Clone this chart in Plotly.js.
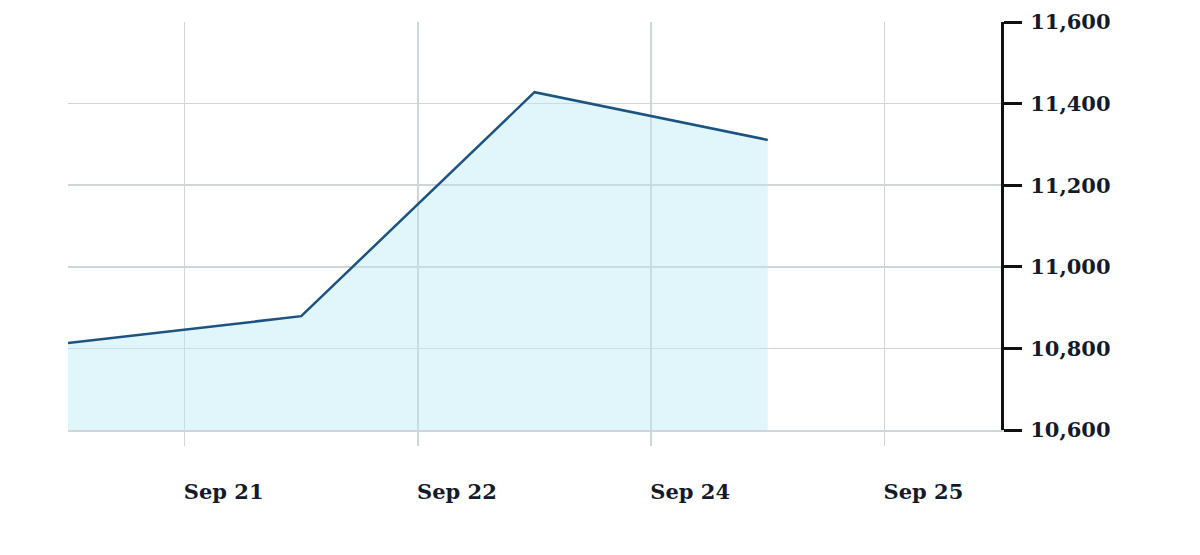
<!DOCTYPE html>
<html>
<head>
<meta charset="utf-8">
<script src="https://cdn.plot.ly/plotly-3.0.1.min.js"></script>
<style>html,body{margin:0;padding:0;background:#fff;}#chart{width:1200px;height:555px;}</style>
</head>
<body>
<div id="chart"></div>
<script>
// Data
var pointIndex = [0, 1, 2, 3];
var values = [10813, 10879, 11428, 11311];
var tickPositions = [0.5, 1.5, 2.5, 3.5];
var tickLabels = ["Sep 21", "Sep 22", "Sep 24", "Sep 25"];
var yTicks = [10600, 10800, 11000, 11200, 11400, 11600];
var yTickLabels = ["10,600", "10,800", "11,000", "11,200", "11,400", "11,600"];

var trace = {
  x: pointIndex,
  y: values,
  type: 'scatter',
  mode: 'lines',
  fill: 'tozeroy',
  fillcolor: 'rgba(177,232,245,0.4)',
  line: {color: '#1d5380', width: 2.5},
  hoverinfo: 'skip'
};

var fontFamily = '"DejaVu Serif", "Liberation Serif", serif';

var layout = {
  width: 1200,
  height: 555,
  margin: {l: 68, r: 199, t: 22, b: 125},
  paper_bgcolor: '#ffffff',
  plot_bgcolor: '#ffffff',
  showlegend: false,
  xaxis: {
    range: [0, 4],
    tickmode: 'array',
    tickvals: tickPositions,
    ticktext: tickLabels,
    showgrid: true,
    gridcolor: '#d2d5d8',
    gridwidth: 1.5,
    ticks: 'outside',
    ticklen: 14,
    tickwidth: 1.5,
    tickcolor: '#d2d5d8',
    ticklabelshift: 39,
    ticklabelstandoff: 28,
    zeroline: false,
    showline: true,
    linecolor: '#d2d5d8',
    linewidth: 1.5,
    tickfont: {family: fontFamily, size: 21, color: '#151a2a', weight: 'bold'}
  },
  yaxis: {
    range: [10600, 11600],
    side: 'right',
    tickmode: 'array',
    tickvals: yTicks,
    ticktext: yTickLabels,
    showgrid: true,
    gridcolor: '#d2d5d8',
    gridwidth: 1.5,
    showline: true,
    linecolor: '#111111',
    linewidth: 3,
    ticks: 'outside',
    ticklen: 18,
    tickwidth: 3,
    tickcolor: '#111111',
    ticklabelstandoff: 4,
    zeroline: false,
    tickfont: {family: fontFamily, size: 21, color: '#151a2a', weight: 'bold'}
  }
};

Plotly.newPlot('chart', [trace], layout, {displayModeBar: false, staticPlot: true});
</script>
</body>
</html>
